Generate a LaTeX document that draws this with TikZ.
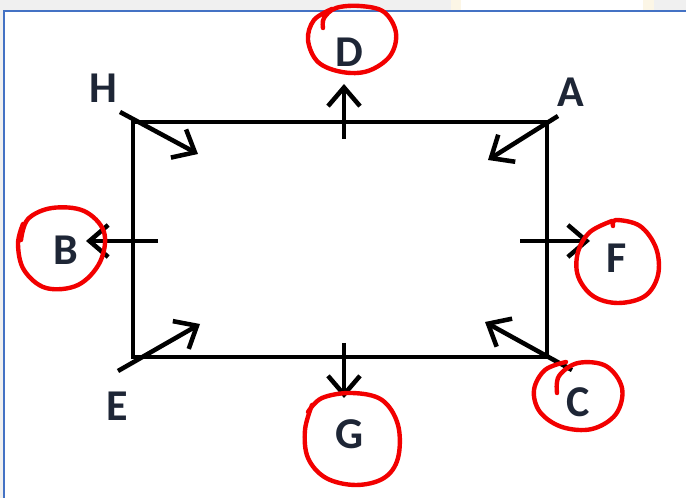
\documentclass[tikz,border=0pt]{standalone}
\usepackage{fontspec}
\setmainfont{Carlito}
\usetikzlibrary{arrows.meta}
\definecolor{bggray}{HTML}{F0F0F0}
\definecolor{frameblue}{HTML}{4472C4}
\definecolor{tabcream}{HTML}{FCF6E6}
\definecolor{labelink}{HTML}{1E2636}
\definecolor{penred}{HTML}{F20000}
\tikzset{
  edgeline/.style={line width=3.4pt, black},
  arr/.style={line width=3.4pt, black, -{Straight Barb[length=14pt,width=24pt,line width=3.4pt]}},
  lbl/.style={font=\fontsize{33}{33}\selectfont\bfseries, text=labelink, inner sep=0pt},
  ring/.style={line width=3.3pt, penred, line cap=round, line join=round}
}
\begin{document}
\begin{tikzpicture}[x=0.75pt,y=-0.75pt]
\useasboundingbox (0,0) rectangle (686,498);
% background and panel
\fill[bggray] (0,0) rectangle (686,498);
\fill[tabcream] (451,0) rectangle (654,12);
\fill[white] (461,0) rectangle (643,12);
\fill[white] (4,11) rectangle (686,498);
\draw[frameblue, line width=1.2pt] (4,498) -- (4,11) -- (686,11);
% corners
\coordinate (cH) at (133,122);
\coordinate (cA) at (547,122);
\coordinate (cE) at (133,357);
\coordinate (cC) at (547,357);
\draw[edgeline, line join=miter] (cH) -- (cA) -- (cC) -- (cE) -- cycle;
% corner arrows
\coordinate (sH) at (120,112); \coordinate (tH) at (198,154);
\coordinate (sA) at (558,116); \coordinate (tA) at (488,160);
\coordinate (sE) at (118,371); \coordinate (tE) at (200,324);
\coordinate (sC) at (572,370); \coordinate (tC) at (485,322);
\draw[arr] (sH) -- (tH);
\draw[arr] (sA) -- (tA);
\draw[arr] (sE) -- (tE);
\draw[arr] (sC) -- (tC);
% mid-side arrows
\coordinate (sD) at (344,139); \coordinate (tD) at (344,84);
\coordinate (sB) at (158,241); \coordinate (tB) at (86,241);
\coordinate (sF) at (520,241); \coordinate (tF) at (590,241);
\coordinate (sG) at (344,343); \coordinate (tG) at (344,398);
\draw[arr] (sD) -- (tD);
\draw[arr] (sB) -- (tB);
\draw[arr] (sF) -- (tF);
\draw[arr] (sG) -- (tG);
% labels
\node[lbl] (H) at (103,88) {H};
\node[lbl] (A) at (571,92) {A};
\node[lbl] (D) at (349,52) {D};
\node[lbl] (B) at (66,250) {B};
\node[lbl] (F) at (617,258) {F};
\node[lbl] (E) at (117,406) {E};
\node[lbl] (G) at (350,434) {G};
\node[lbl] (C) at (578,402) {C};
% red hand-drawn rings
\draw[ring] plot[smooth, tension=0.6] coordinates {(323,28) (324,18) (336,8) (360,6) (384,12) (396,33) (390,56) (368,71) (342,72) (318,62) (308,40) (314,20) (332,9)};
\draw[ring] plot[smooth, tension=0.6] coordinates {(21,240) (28,219) (52,208) (84,211) (104,232) (100,262) (78,285) (46,288) (24,270) (18,244) (23,224)};
\draw[ring] plot[smooth, tension=0.6] coordinates {(613,226) (616,220) (640,226) (656,248) (658,275) (645,296) (618,303) (593,296) (578,276) (578,252) (590,232) (612,221)};
\draw[ring] plot[smooth, tension=0.6] coordinates {(308,412) (322,398) (352,393) (382,400) (398,425) (398,458) (384,478) (356,485) (326,478) (308,458) (305,430) (312,405)};
\draw[ring] plot[smooth, tension=0.6] coordinates {(557,393) (559,376) (578,363) (606,366) (622,388) (616,414) (592,429) (562,427) (540,412) (534,390) (545,370) (566,362)};
\end{tikzpicture}
\end{document}
